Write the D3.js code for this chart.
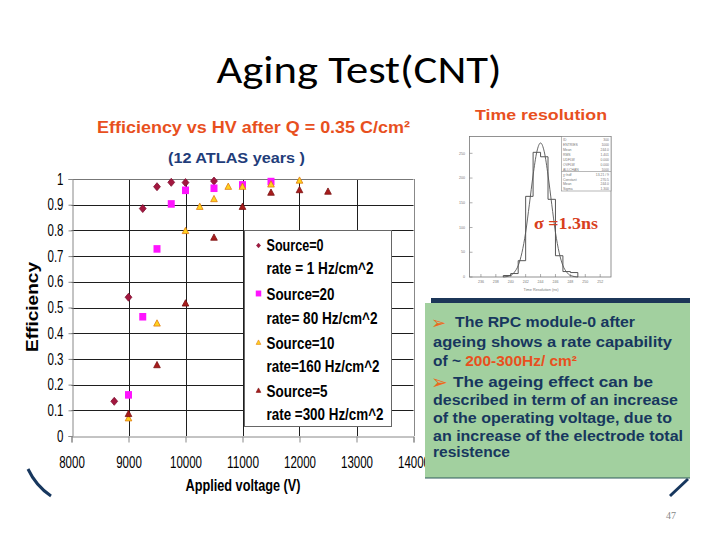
<!DOCTYPE html>
<html><head><meta charset="utf-8">
<script src="https://cdn.jsdelivr.net/npm/d3@7"></script>
<style>body{margin:0;background:#fff} svg{display:block}</style>
</head><body><svg id="c" width="720" height="540"></svg>
<script>
// ---------- Efficiency vs HV data ----------
const src0_hv  = [8750, 9000, 9250, 9500, 9750, 10000, 10500];
const src0_eff = [0.135, 0.54, 0.885, 0.97, 0.987, 0.986, 0.992];
const src20_hv  = [9000, 9250, 9500, 9750, 10000, 10500, 11000, 11500];
const src20_eff = [0.16, 0.464, 0.728, 0.903, 0.956, 0.964, 0.977, 0.99];
const src10_hv  = [9000, 9500, 10000, 10250, 10500, 10750, 11000, 11500, 12000];
const src10_eff = [0.069, 0.438, 0.798, 0.892, 0.922, 0.97, 0.97, 0.979, 0.994];
const src5_hv  = [9000, 9500, 10000, 10500, 11000, 11500, 12000, 12500];
const src5_eff = [0.086, 0.276, 0.516, 0.772, 0.892, 0.947, 0.957, 0.951];
const seriesNames = ["Source=0", "Source=20", "Source=10", "Source=5"];
const seriesRates = ["rate = 1 Hz/cm^2", "rate= 80 Hz/cm^2", "rate=160 Hz/cm^2", "rate =300 Hz/cm^2"];
const xTicks = [8000, 9000, 10000, 11000, 12000, 13000, 14000];
const yTicks = [0, 0.1, 0.2, 0.3, 0.4, 0.5, 0.6, 0.7, 0.8, 0.9, 1];
const yTickLabels = ["0", "0.1", "0.2", "0.3", "0.4", "0.5", "0.6", "0.7", "0.8", "0.9", "1"];

// ---------- Time resolution histogram ----------
const histEdges  = [239, 240, 241, 242, 243, 244, 245, 246, 247, 248];
const histCounts = [3, 7, 33, 163, 252, 243, 157, 43, 11, 9];
const fitT = [239, 240, 240.5, 241, 241.5, 242, 242.5, 243, 243.5, 244, 244.5, 245, 245.5, 246, 246.5, 247, 247.5, 248, 249];
const fitN = [0, 3, 10, 23, 49, 90, 147, 206, 253, 271, 253, 206, 147, 90, 49, 23, 10, 3, 0];
const histXTicks = [236, 238, 240, 242, 244, 246, 248, 250, 252];
const histYTicks = [0, 50, 100, 150, 200, 250];
const statsTop = [["ID","300"],["ENTRIES","1000"],["Mean","244.0"],["RMS","1.401"],["UDFLW","0.000"],["OVFLW","0.000"],["ALLCHAN","1000"]];
const statsFit = [["\u03C7\u00B2/ndf","13.21 / 9"],["Constant","270.5"],["Mean","244.0"],["Sigma","1.300"]];

// ---------- Text box ----------
const boxLines = [
  "The RPC module-0 after",
  "ageing shows a rate   capability",
  null,
  "The  ageing effect can be",
  "described in term of an increase",
  "of the operating voltage, due to",
  "an increase of the electrode total",
  "resistence"
];

const svg = d3.select("#c");
const NARROW = "'Liberation Sans Narrow','Arial Narrow','Liberation Sans',Arial,sans-serif";
const SANS = "'Liberation Sans',Arial,sans-serif";
const NAVY = "#17375e";
const ORANGE = "#e8501e";
const charW = s => s.split("").reduce((a, c) => a + (c === "." ? 3.2 : 6.4), 0);

// slide title
svg.append("text").attr("x", 359).attr("y", 83).attr("text-anchor", "middle")
  .attr("font-family", "Carlito,Lato,'Open Sans',sans-serif").attr("font-size", 38)
  .attr("textLength", 285).attr("lengthAdjust", "spacingAndGlyphs")
  .attr("fill", "#000").text("Aging Test(CNT)");

// decorative arcs
svg.append("path").attr("d", "M28,469 Q36,486 51,496").attr("fill", "none")
  .attr("stroke", NAVY).attr("stroke-width", 3);
svg.append("path").attr("d", "M688,479 L670,496").attr("fill", "none")
  .attr("stroke", NAVY).attr("stroke-width", 3);
svg.append("text").attr("x", 671).attr("y", 519).attr("text-anchor", "middle")
  .attr("font-family", "'Liberation Serif',serif").attr("font-size", 10)
  .attr("fill", "#888").text("47");

// ---------- main chart ----------
const x = d3.scaleLinear().domain([8000, 14000]).range([71.5, 413.5]);
const y = d3.scaleLinear().domain([0, 1]).range([436, 179]);

svg.append("text").attr("x", 97).attr("y", 133)
  .attr("font-family", SANS).attr("font-weight", "bold").attr("font-size", 16)
  .attr("fill", ORANGE).attr("textLength", 313).attr("lengthAdjust", "spacingAndGlyphs")
  .text("Efficiency vs HV after Q = 0.35 C/cm\u00B2");
svg.append("text").attr("x", 168).attr("y", 163)
  .attr("font-family", SANS).attr("font-weight", "bold").attr("font-size", 15)
  .attr("fill", "#1f3d7a").attr("textLength", 137).attr("lengthAdjust", "spacingAndGlyphs")
  .text("(12 ATLAS years )");

const grid = svg.append("g");
grid.selectAll("line.h").data(yTicks.filter(d => d > 0 && d < 1)).join("line")
  .attr("x1", x(8000)).attr("x2", x(14000))
  .attr("y1", d => Math.round(y(d)) + 0.5).attr("y2", d => Math.round(y(d)) + 0.5)
  .attr("stroke", "#1e1e1e").attr("stroke-width", 1);
grid.selectAll("line.v").data(xTicks.filter(d => d > 8000 && d < 14000)).join("line")
  .attr("x1", d => Math.round(x(d)) + 0.5).attr("x2", d => Math.round(x(d)) + 0.5)
  .attr("y1", y(1)).attr("y2", y(0))
  .attr("stroke", "#1e1e1e").attr("stroke-width", 1);
svg.append("line").attr("x1", x(8000)).attr("x2", x(14000)).attr("y1", Math.round(y(1)) + 0.5).attr("y2", Math.round(y(1)) + 0.5).attr("stroke", "#777");
svg.append("line").attr("x1", Math.round(x(14000)) + 0.5).attr("x2", Math.round(x(14000)) + 0.5).attr("y1", y(1)).attr("y2", y(0)).attr("stroke", "#888");

const gx = svg.append("g").attr("transform", `translate(0,${Math.round(y(0)) + 0.5})`)
  .call(d3.axisBottom(x).tickValues(xTicks).tickSize(6).tickPadding(14).tickFormat(d3.format("d")));
gx.select(".domain").attr("stroke", "#888");
gx.selectAll(".tick line").attr("stroke", "#888");
gx.selectAll("text").attr("font-family", NARROW).attr("font-size", 16).attr("fill", "#000")
  .attr("textLength", d => charW(String(d))).attr("lengthAdjust", "spacingAndGlyphs");

const gy = svg.append("g").attr("transform", `translate(${Math.round(x(8000)) + 0.5},0)`)
  .call(d3.axisLeft(y).tickValues(yTicks).tickSize(4).tickPadding(5).tickFormat((d, i) => yTickLabels[i]));
gy.select(".domain").attr("stroke", "#888");
gy.selectAll(".tick line").attr("stroke", "#888");
gy.selectAll("text").attr("font-family", NARROW).attr("font-size", 16).attr("fill", "#000")
  .attr("textLength", (d, i) => charW(yTickLabels[i])).attr("lengthAdjust", "spacingAndGlyphs");

svg.append("text").attr("transform", "translate(38,307) rotate(-90)").attr("text-anchor", "middle")
  .attr("font-family", SANS).attr("font-weight", "bold").attr("font-size", 16)
  .attr("textLength", 90).attr("lengthAdjust", "spacingAndGlyphs").attr("fill", "#000").text("Efficiency");
svg.append("text").attr("x", 243).attr("y", 491).attr("text-anchor", "middle")
  .attr("font-family", NARROW).attr("font-weight", "bold").attr("font-size", 16)
  .attr("textLength", 115).attr("lengthAdjust", "spacingAndGlyphs").attr("fill", "#000").text("Applied voltage (V)");

// marker shapes
const diamondT = { draw(ctx, size) { const h = Math.sqrt(size) / 2, w = h * 0.85; ctx.moveTo(0, -h); ctx.lineTo(w, 0); ctx.lineTo(0, h); ctx.lineTo(-w, 0); ctx.closePath(); } };
const triT = { draw(ctx, size) { const s = Math.sqrt(size) / 2; ctx.moveTo(0, -s * 1.1); ctx.lineTo(s, s * 0.8); ctx.lineTo(-s, s * 0.8); ctx.closePath(); } };
const squareT = { draw(ctx, size) { const s = Math.sqrt(size) / 2; ctx.rect(-s, -s * 1.08, 2 * s, 2.16 * s); } };

const series = [
  { hv: src0_hv, eff: src0_eff, type: diamondT, size: 64, fill: "#a3173f", stroke: "#7d0e2e" },
  { hv: src20_hv, eff: src20_eff, type: squareT, size: 49, fill: "#ff14ff", stroke: "none" },
  { hv: src10_hv, eff: src10_eff, type: triT, size: 44, fill: "#ffd21e", stroke: "#e07a10" },
  { hv: src5_hv, eff: src5_eff, type: triT, size: 44, fill: "#a81c1c", stroke: "#7a1010" }
];
series.forEach(s => {
  svg.append("g").selectAll("path").data(s.hv.map((v, i) => [v, s.eff[i]])).join("path")
    .attr("transform", d => `translate(${x(d[0])},${y(d[1])})`)
    .attr("d", d3.symbol().type(s.type).size(s.size))
    .attr("fill", s.fill).attr("stroke", s.stroke).attr("stroke-width", 0.8);
});

// legend
const lg = svg.append("g");
lg.append("rect").attr("x", 244.5).attr("y", 230.5).attr("width", 147).attr("height", 196)
  .attr("fill", "#fff").attr("stroke", "#666");
const legY = [245.5, 293.5, 342.5, 390.5];
const nameBase = [251, 300, 349, 397];
const rateBase = [273.5, 323.5, 372, 420];
const nameW = [57, 68, 68, 61];
const rateW = [107, 111, 113, 117];
series.forEach((s, i) => {
  lg.append("path").attr("transform", `translate(258.5,${legY[i]})`)
    .attr("d", d3.symbol().type(s.type).size(i === 1 ? 30 : 22))
    .attr("fill", s.fill).attr("stroke", s.stroke).attr("stroke-width", 0.6);
  lg.append("text").attr("x", 266.5).attr("y", nameBase[i])
    .attr("font-family", NARROW).attr("font-weight", "bold").attr("font-size", 17)
    .attr("textLength", nameW[i]).attr("lengthAdjust", "spacingAndGlyphs").attr("fill", "#000")
    .text(seriesNames[i]);
  lg.append("text").attr("x", 266.5).attr("y", rateBase[i])
    .attr("font-family", NARROW).attr("font-weight", "bold").attr("font-size", 17)
    .attr("textLength", rateW[i]).attr("lengthAdjust", "spacingAndGlyphs").attr("fill", "#000")
    .text(seriesRates[i]);
});

// ---------- Time resolution panel ----------
svg.append("text").attr("x", 475).attr("y", 120)
  .attr("font-family", SANS).attr("font-weight", "bold").attr("font-size", 15)
  .attr("fill", ORANGE).attr("textLength", 132).attr("lengthAdjust", "spacingAndGlyphs")
  .text("Time resolution");

const hx = d3.scaleLinear().domain([234.4, 253.45]).range([469, 611]);
const hy = d3.scaleLinear().domain([0, 285]).range([277, 136]);
const hp = svg.append("g");
hp.append("rect").attr("x", 469.5).attr("y", 136.5).attr("width", 141.5).attr("height", 140.5)
  .attr("fill", "#fff").attr("stroke", "#777").attr("stroke-width", 0.8);
hp.selectAll("line.xt").data(histXTicks).join("line")
  .attr("x1", d => hx(d)).attr("x2", d => hx(d)).attr("y1", 277).attr("y2", 274)
  .attr("stroke", "#777").attr("stroke-width", 0.6);
hp.selectAll("text.xt").data(histXTicks).join("text")
  .attr("x", d => hx(d)).attr("y", 283).attr("text-anchor", "middle")
  .attr("font-family", SANS).attr("font-size", 3.6).attr("fill", "#777").text(d => d);
hp.selectAll("line.yt").data(histYTicks).join("line")
  .attr("x1", 469.5).attr("x2", 472.5).attr("y1", d => hy(d)).attr("y2", d => hy(d))
  .attr("stroke", "#777").attr("stroke-width", 0.6);
hp.selectAll("text.yt").data(histYTicks).join("text")
  .attr("x", 465).attr("y", d => hy(d) + 1.2).attr("text-anchor", "end")
  .attr("font-family", SANS).attr("font-size", 3.6).attr("fill", "#777").text(d => d);
hp.append("text").attr("x", 541).attr("y", 291).attr("text-anchor", "middle")
  .attr("font-family", SANS).attr("font-size", 3.8).attr("fill", "#777").text("Time Resolution (ns)");

const stepPts = [[histEdges[0], 0]];
histEdges.forEach((e, i) => stepPts.push([e, histCounts[i]]));
stepPts.push([histEdges[histEdges.length - 1] + 1, histCounts[histCounts.length - 1]]);
stepPts.push([histEdges[histEdges.length - 1] + 1, 0]);
hp.append("path").attr("d", d3.line().x(d => hx(d[0])).y(d => hy(d[1])).curve(d3.curveStepAfter)(stepPts))
  .attr("fill", "none").attr("stroke", "#444").attr("stroke-width", 0.9);
hp.append("path").attr("d", d3.line().x(d => hx(d[0])).y(d => hy(d[1])).curve(d3.curveMonotoneX)(fitT.map((t, i) => [t, fitN[i]])))
  .attr("fill", "none").attr("stroke", "#555").attr("stroke-width", 0.9);

hp.append("rect").attr("x", 561.5).attr("y", 136.5).attr("width", 49.5).attr("height", 54.5)
  .attr("fill", "#fff").attr("stroke", "#888").attr("stroke-width", 0.6);
hp.append("line").attr("x1", 561.5).attr("x2", 611).attr("y1", 171.5).attr("y2", 171.5)
  .attr("stroke", "#888").attr("stroke-width", 0.6);
statsTop.forEach((r, i) => {
  hp.append("text").attr("x", 563).attr("y", 141 + i * 5).attr("font-family", SANS).attr("font-size", 3.4).attr("fill", "#777").text(r[0]);
  hp.append("text").attr("x", 609).attr("y", 141 + i * 5).attr("text-anchor", "end").attr("font-family", SANS).attr("font-size", 3.4).attr("fill", "#777").text(r[1]);
});
statsFit.forEach((r, i) => {
  hp.append("text").attr("x", 563).attr("y", 176 + i * 4.7).attr("font-family", SANS).attr("font-size", 3.4).attr("fill", "#777").text(r[0]);
  hp.append("text").attr("x", 609).attr("y", 176 + i * 4.7).attr("text-anchor", "end").attr("font-family", SANS).attr("font-size", 3.4).attr("fill", "#777").text(r[1]);
});
svg.append("text").attr("x", 534).attr("y", 229)
  .attr("font-family", "'Liberation Serif','Times New Roman',serif").attr("font-weight", "bold").attr("font-size", 17)
  .attr("fill", "#d8401e").attr("textLength", 64).attr("lengthAdjust", "spacingAndGlyphs")
  .text("\u03C3 =1.3ns");

// ---------- green text box ----------
svg.append("rect").attr("x", 431).attr("y", 298).attr("width", 259).attr("height", 5).attr("fill", "#1c3658");
svg.append("rect").attr("x", 425).attr("y", 303).attr("width", 265).attr("height", 175).attr("fill", "#a2d09f");
svg.append("line").attr("x1", 425).attr("x2", 690).attr("y1", 478).attr("y2", 478).attr("stroke", "#2f5a5a").attr("stroke-width", 1);

const arrowStyle = t => t.attr("font-family", "'DejaVu Sans',sans-serif").attr("fill", "#ec6a1c");
arrowStyle(svg.append("text").attr("x", 431).attr("y", 329).attr("font-size", 18).text("\u27A2"));
arrowStyle(svg.append("text").attr("x", 431).attr("y", 389).attr("font-size", 20).text("\u27A2"));

const lineX = [455, 433, 433, 453, 433, 433, 433, 433];
const lineY = [327, 347, 366, 387, 405, 422.5, 440.5, 456.5];
const lineW = [180, 239, 144, 200, 245, 239, 250, 77];
boxLines.forEach((t, i) => {
  const tx = svg.append("text").attr("x", lineX[i]).attr("y", lineY[i])
    .attr("font-family", SANS).attr("font-weight", "bold").attr("font-size", 14)
    .attr("fill", NAVY).attr("textLength", lineW[i]).attr("lengthAdjust", "spacingAndGlyphs");
  if (t === null) {
    tx.append("tspan").text("of ~ ");
    tx.append("tspan").attr("fill", ORANGE).text("200-300Hz/ cm\u00B2");
  } else {
    tx.text(t);
  }
});
</script>
</body></html>
